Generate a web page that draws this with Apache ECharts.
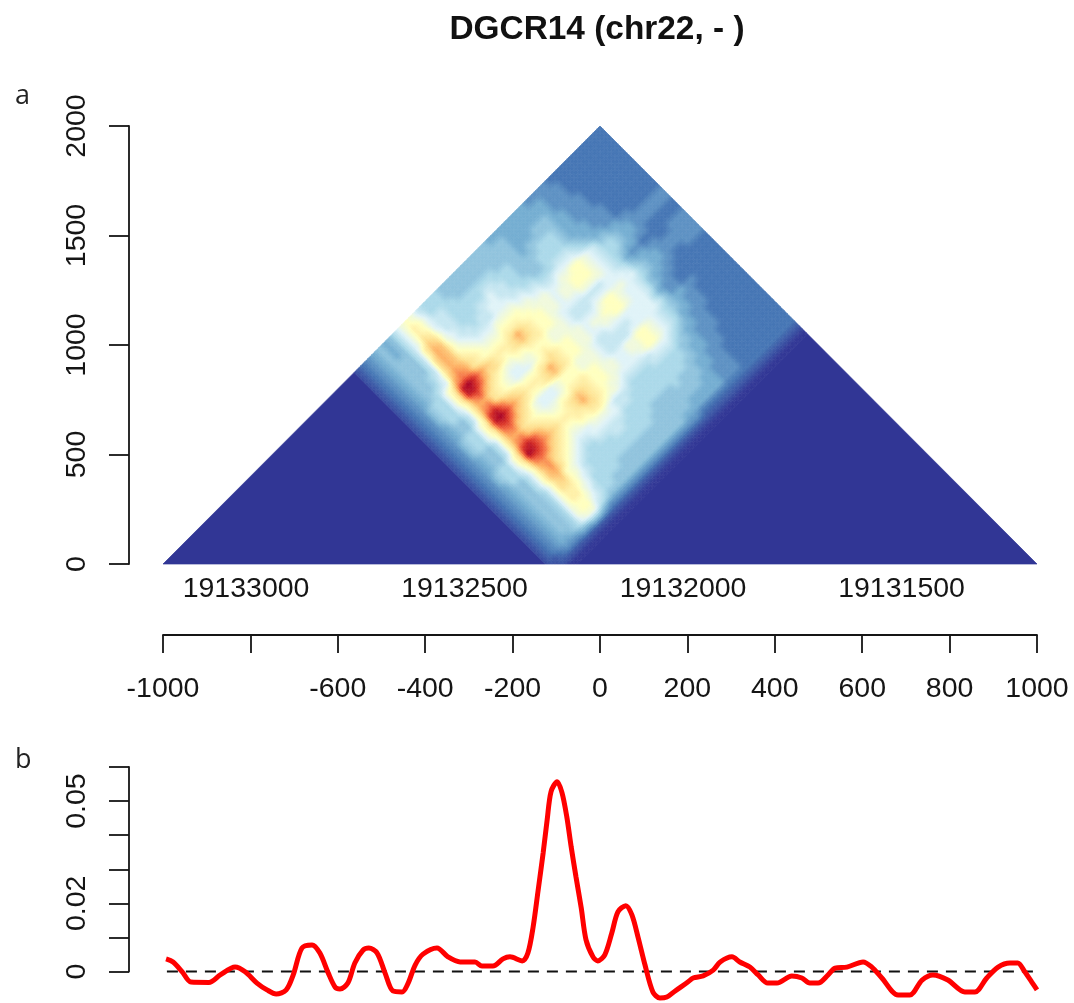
<!DOCTYPE html>
<html><head><meta charset="utf-8">
<style>html,body{margin:0;padding:0;background:#fff}#c{width:1074px;height:1003px}</style>
<script src="https://cdn.jsdelivr.net/npm/echarts@6/dist/echarts.min.js"></script>
</head><body><div id="c"></div>
<script>
// Heat matrix. Each row is one start position (first -1000, step 25),
// each character one end position (first -125, step 25), level in base 36 (0..k).
const heatRows = [
"12345 4579a 97666 55555 55554 44444 43333 22222 22222",
"12345 4579b a8666 55555 55555 54444 44433 32222 22222",
"12345 4579b a8776 65555 55555 54444 44433 32222 22222",
"12345 5579c b8776 66666 66555 54445 55433 32222 22222",
"12345 557bd c9776 66667 76665 54555 55443 33222 22222",
"12345 557be d9876 66778 77665 55566 65443 33222 22222",
"12345 557ce da877 67788 77665 55666 65443 33222 22222",
"12345 567ce da987 77788 87766 55666 65444 33322 22222",
"12345 568ce dba98 88999 98877 66677 76544 33322 22222",
"12345 678df ecba9 99aaa a9988 77888 87654 43322 22222",
"12356 69bfg fcbaa aabbb aa999 8899a a9875 54433 22222",
"12356 69cjk ifdcb bbcec baa99 899aa a9876 65443 33333",
"12356 69cjj heccb abcdc baa99 899aa a9876 65443 33333",
"12346 68bfh ecba9 9aabb baa98 88899 99876 54433 22222",
"12345 57bee cba98 899aa a9998 77777 78876 43322 22222",
"12345 57bfg cba98 889ab a9998 77788 88887 54433 22333",
"12356 69bij gdcba aabbc baa99 8889a a9988 65443 33333",
"12356 69cjk ifdcb bbcec baa99 899aa a9887 65443 33333",
"12356 69bhi gdcba abcdc baa99 8899a a9887 54433 22333",
"12345 57bfg dcb98 889aa a9998 77888 88887 54332 22222",
"12345 57bee cba98 889aa a9998 77777 88886 43322 22222",
"12345 57bfg dcba9 9aabb baa98 77778 88887 53322 22222",
"12356 69cij hecba abcdc baa99 8899a a9876 54433 22222",
"12356 69ckj hfdcb bbcec baa99 8899a a9876 54332 22222",
"12346 68bgh gdcba abbcc ba998 8889a a9876 44332 22222",
"12345 57aef dcba9 9aabb a9987 77778 88765 43332 22222",
"12345 57adf cba98 88999 87776 66677 77654 43322 22222",
"12345 57ade ca987 78888 87766 66666 66554 33322 22222",
"12345 569cd a9876 67777 76666 66666 66544 33322 22222",
"12345 569cc a9766 66677 66666 66666 65544 33222 22222",
"12345 569bb a8766 66666 66665 55565 55443 33222 22222",
"12345 569bb 98666 66666 66655 55555 55443 32222 22222",
"12345 569aa 97666 65555 55555 55555 54433 32222 22222",
"12345 569aa 87665 55555 55555 55544 44433 32222 22222",
"12344 56899 76555 55555 55555 54444 44433 32222 22222",
"11233 34455 43333 33333 33333 33322 22222 22222 22222",
"01111 11111 11111 11111 11111 11111 11111 11111 11111",
"00000 00000 00000 00000 00000 00000 00000 00000 00000"
];
const heatFirstStart = -1000, heatFirstEnd = -125, heatStep = 25;
const emptyBlocks = [[-1000,1000,-1000,-125],[-50,1000,-125,1000]];
const palette = ['#313695','#4575b4','#74add1','#abd9e9','#e0f3f8','#ffffbf','#fee090','#fdae61','#f46d43','#d73027','#a50026'];
const maxLevel = 20;
const cellShades = 4;

const positionTicks = [-1000,-800,-600,-400,-200,0,200,400,600,800,1000];
const positionLabels = [-1000,-600,-400,-200,0,200,400,600,800,1000];
const genomicTicks = [19133000,19132500,19132000,19131500];
const heightTicks = [0,500,1000,1500,2000];
const scoreTicks = [0,0.01,0.02,0.03,0.04,0.05,0.06];
const scoreLabels = {0:'0',0.02:'0.02',0.05:'0.05'};

const curveX = [-993,-977,-956,-936,-895,-869,-835,-812,-785,-762,-741,-718,-702,-682,-659,-641,-622,-606,-595,-577,-561,-542,-529,-510,-492,-474,-453,-439,-423,-405,-373,-348,-320,-286,-270,-245,-222,-206,-178,-165,-153,-142,-130,-121,-112,-98,-87,-76,-66,-55,-43,-32,-16,-5,11,27,41,59,73,87,103,121,137,153,172,201,213,236,259,275,302,320,343,362,384,405,439,462,480,499,522,538,565,602,622,645,682,709,737,762,796,835,858,885,911,938,956,972,988,1000];
const curveY = [3.7,2.8,-0.1,-3.1,-3.2,-1.0,1.3,-0.1,-3.4,-5.4,-6.6,-5.4,-1,6.9,7.8,5.4,-0.4,-4.6,-5.1,-3.4,2.5,6.3,6.9,5.4,-0.4,-5.7,-6,-3.4,1.9,5.1,6.9,4.3,2.8,2.8,1.6,1.6,3.7,4.3,3.1,5.4,13.1,23.4,34.9,44.4,52.8,55.7,52.5,45.4,36.6,27.8,18.7,9.3,4.3,3.1,4.9,11.3,17.5,19.3,16.6,10.1,1.9,-6,-7.8,-7.5,-5.7,-3.1,-1.9,-1.3,0.4,2.8,4.3,2.8,1.3,-1,-3.4,-3.4,-1.3,-1.9,-3.4,-3.4,-1,1,1.3,2.8,1.3,-1.9,-6.9,-6.9,-2.5,-1,-2.5,-6,-6,-1.9,1.3,2.5,2.5,-0.1,-3.1,-5.4];
const baselineX = [-1078,1080];
const baselineY = [0,0];

const font = '"Liberation Sans", Arial, sans-serif';
const ink = '#151515';
const axisFont = 28.5;

const levels = heatRows.map(r=>r.replace(/ /g,'').split('').map(c=>parseInt(c,36)));
const heatCells = [];
levels.forEach((row,i)=>row.forEach((v,j)=>{
  const a0=heatFirstStart+i*heatStep, b0=heatFirstEnd+j*heatStep;
  heatCells.push([a0,a0+heatStep,b0,b0+heatStep,v]);
}));

function levelAt(i,j){
  if(j<0||i>=levels.length) return 0;
  const r=levels[Math.max(i,0)];
  return r[Math.min(j,r.length-1)];
}
function shadeAt(a,b){
  const fi=(a-heatFirstStart)/heatStep-0.5, fj=(b-heatFirstEnd)/heatStep-0.5;
  const i=Math.floor(fi), j=Math.floor(fj), u=fi-i, v=fj-j;
  const w=levelAt(i,j)*(1-u)*(1-v)+levelAt(i+1,j)*u*(1-v)+levelAt(i,j+1)*(1-u)*v+levelAt(i+1,j+1)*u*v;
  return echarts.color.lerp(w/maxLevel,palette);
}
function clipAboveDiagonal(pts){
  const out=[];
  for(let i=0;i<pts.length;i++){
    const p=pts[i],q=pts[(i+1)%pts.length];
    const dp=p[1]-p[0],dq=q[1]-q[0];
    if(dp>=0) out.push(p);
    if((dp>0&&dq<0)||(dp<0&&dq>0)){
      const t=dp/(dp-dq);
      out.push([p[0]+t*(q[0]-p[0]),p[1]+t*(q[1]-p[1])]);
    }
  }
  return out;
}
function quad(api,a0,a1,b0,b1,color){
  const poly=clipAboveDiagonal([[a0,b0],[a0,b1],[a1,b1],[a1,b0]]);
  if(poly.length<3) return null;
  return {type:'polygon',
    shape:{points:poly.map(p=>api.coord([(p[0]+p[1])/2,p[1]-p[0]]))},
    style:{fill:color,stroke:color,lineWidth:0.7}};
}
function renderBlock(params,api){
  return quad(api,api.value(0),api.value(1),api.value(2),api.value(3),palette[0]);
}
function renderCell(params,api){
  const a0=api.value(0),a1=api.value(1),b0=api.value(2),b1=api.value(3);
  const children=[];
  for(let s=0;s<cellShades;s++)for(let t=0;t<cellShades;t++){
    const ca0=a0+(a1-a0)*s/cellShades, ca1=a0+(a1-a0)*(s+1)/cellShades;
    const cb0=b0+(b1-b0)*t/cellShades, cb1=b0+(b1-b0)*(t+1)/cellShades;
    const q=quad(api,ca0,ca1,cb0,cb1,shadeAt((ca0+ca1)/2,(cb0+cb1)/2));
    if(q) children.push(q);
  }
  return {type:'group',children};
}

const chart = echarts.init(document.getElementById('c'),null,{renderer:'canvas'});
const lineStyle={color:ink,width:1.8};
chart.setOption({
  animation:false,
  backgroundColor:'#fff',
  title:[
    {text:'DGCR14 (chr22, - )',left:592,top:8,textAlign:'center',textStyle:{fontFamily:font,fontWeight:'bold',fontSize:33.4,color:'#111'}},
    {text:'a',left:10,top:78,textStyle:{fontFamily:'"Open Sans"',fontWeight:'normal',fontSize:27,color:'#222'}},
    {text:'b',left:10,top:742,textStyle:{fontFamily:'"Open Sans"',fontWeight:'normal',fontSize:27,color:'#222'}}
  ],
  grid:[
    {left:163,right:37,top:126,height:438,containLabel:false},
    {left:163,right:37,top:767,height:204.5,containLabel:false}
  ],
  xAxis:[
    {type:'value',gridIndex:0,position:'bottom',offset:71,min:-1000,max:1000,
      axisLine:{show:true,onZero:false,lineStyle},
      axisTick:{show:true,length:18,lineStyle,customValues:positionTicks},
      axisLabel:{show:true,margin:40,fontFamily:font,fontSize:axisFont,color:ink,customValues:positionLabels,hideOverlap:false,formatter:v=>String(v)},
      splitLine:{show:false}},
    {type:'value',gridIndex:0,position:'bottom',offset:71,min:19131190,max:19133190,inverse:true,
      axisLine:{show:false},
      axisTick:{show:true,inside:true,length:16,lineStyle,customValues:genomicTicks},
      axisLabel:{show:true,inside:true,margin:31,fontFamily:font,fontSize:axisFont,color:ink,customValues:genomicTicks,hideOverlap:false,formatter:v=>String(v)},
      splitLine:{show:false}},
    {type:'value',gridIndex:1,min:-1000,max:1000,show:false}
  ],
  yAxis:[
    {type:'value',gridIndex:0,position:'left',offset:34,min:0,max:2000,
      axisLine:{show:true,onZero:false,lineStyle},
      axisTick:{show:true,length:20,lineStyle,customValues:heightTicks},
      axisLabel:{show:true,rotate:90,margin:37,fontFamily:font,fontSize:axisFont,color:ink,customValues:heightTicks,hideOverlap:false,formatter:v=>String(v)},
      splitLine:{show:false}},
    {type:'value',gridIndex:1,position:'left',offset:34,min:0,max:0.06,
      axisLine:{show:true,onZero:false,lineStyle},
      axisTick:{show:true,length:20,lineStyle,customValues:scoreTicks},
      axisLabel:{show:true,rotate:90,margin:37,fontFamily:font,fontSize:axisFont,color:ink,customValues:[0,0.02,0.05],hideOverlap:false,formatter:v=>scoreLabels[v]},
      splitLine:{show:false}}
  ],
  series:[
    {type:'custom',xAxisIndex:0,yAxisIndex:0,data:emptyBlocks,renderItem:renderBlock,clip:false,silent:true,z:1},
    {type:'custom',xAxisIndex:0,yAxisIndex:0,data:heatCells,renderItem:renderCell,clip:false,silent:true,progressive:0,z:2},
    {type:'line',xAxisIndex:2,yAxisIndex:1,data:baselineX.map((x,i)=>[x,baselineY[i]]),showSymbol:false,clip:false,silent:true,z:3,
      lineStyle:{color:'#111',width:2,type:[11,8]}},
    {type:'line',xAxisIndex:2,yAxisIndex:1,data:curveX.map((x,i)=>[x,curveY[i]/1000]),showSymbol:false,clip:false,silent:true,smooth:0.3,z:4,
      lineStyle:{color:'#ff0000',width:5}}
  ]
});
</script></body></html>
